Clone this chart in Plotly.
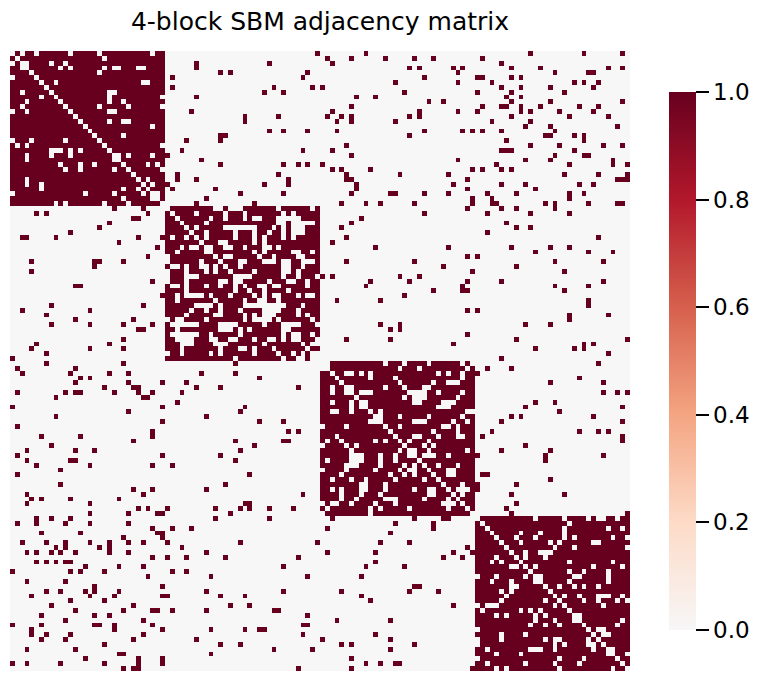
import plotly.graph_objects as go

BLOCK = 32
N = BLOCK * 4

# Zero cells inside each diagonal block, upper triangle: row -> columns (diagonal is zero as well)
Z1 = [[2,5,12,18,29],[19],[3,8,11],[10,12,19,21,22,26,27],[18],[],[9,27,28],[],[20,21],[20,31],[20,23],
      [18,24,31],[20,21],[],[20,23,24],[29],[],[23],[],[31],[],[22,24,29],[],[28,30],[31],[],[28],[29],[],[30],[],[]]
Z2 = [[10,11,13,14,15,23,30],[6,12,16,24,26],[9,12,16,18,19,23,24,25,26,27],[8,23,24,26,27,28,29,30],
      [6,12,13,14,15,16,17,18,22,24,26,27,28],[8,14,18,21,24,26,27,28],[8,14,18,20,24,26],[11,12,18,20],
      [9,12,13,16,20,21,23],[18,20,26,27,30],[12,13,19,22,27,28],[15,16,20,21,22,24,25,28,29,30],
      [15,24,25,28],[18,24,25,27],[15,16,17,24,27,31],[21,25,26,29],[19,20,22,23,29],[20,25],
      [20,22,23,27,29,30],[20,23],[21,22,23,24,28],[22,23,27],[27,29],[30],[25,26,27,31],[],[27,30],[31],
      [30,31],[],[31],[]]
Z3 = [[1,13,17,22,29,31],[16,20,30],[5,6,8,10,24,26,29],[10,15,29],[16,23,26,27,28],[6,13,17,21,22],
      [8,9,10,18,19,20,21,24,29],[17,19,20,21,28],[9,19,20,25,26,27],[24,25,26],[12,30,31],[12,16,22,29],
      [19,20,21,27,30],[16,25,26,28],[23,28],[19,20,24,28,29],[18,22],[21,23],[19,22,30],[21,22,23,26],
      [],[24,28],[26,27],[26,27],[],[29],[28,29,30],[29],[],[],[],[]]
Z4 = [[12,18,23,25,26,29],[19],[18,27,30],[9,13,18],[8,12,18,20,28,31],[9,15,17,24,25],[16,20,31],
      [10,13,14,15],[10,14],[19,28],[12,24,30],[19,22,27],[13,20,21,27],[19,27],[17,20,22,25],[],
      [18,21,25,26,27,30],[22,25,29,31],[26],[],[21],[30],[29],[25,26],[26,27],[],[],[28],[31],[],[],[]]

# Ones between blocks: row -> columns, local indices of each block
B12 = [[31],[],[6,21],[6],[11,13,29],[1,28],[],[1,22,30],[20,24],[6],[],[],[5],[16,23],[16],[],[21,24,29],
       [11,12],[4,11],[],[3,28],[0],[7],[11,24,27,29],[],[2,23],[2,6,25],[0,20,25],[1,10],[15,24],[8],[6,18]]
B13 = [[9],[1,6,13,19,23],[2],[18,20,27,29],[28],[21],[15,28],[0],[17],[7,11],[22,25],[6],[2,20,28],
       [1,4,6,18,20],[3,6,15],[],[3,21,29,31],[18],[],[5],[2],[6],[28],[0],[2,4,10,31],[5,16,26],[5,6,30],
       [7,27],[7,30],[6,14,15,21,26],[31],[4,9,12,19,31]]
B14 = [[11,22,30],[1],[5],[7,13,27,30],[16,23,24],[0,1,7,9],[3,20,22,25],[5,9,15,24],[0,7,18],[6,9],[7,15,30],
       [1,5,6,9,13,21,25],[0,9,11,17,24],[7,19,27],[3,11],[10,15,29],[1,5,16],[14,15,20,22],[6,22],[11,17,26,30],
       [5,6,7,20],[16,22,23],[10,15,28],[4,19,28,31],[1,5,7],[18,25,31],[29,30,31],[5,10,21,24],[12],
       [2,8,19,22],[3,19],[3,4,14,16,23,29,30]]
B23 = [[30],[21],[8],[6],[4],[],[5],[2],[11,26],[],[30],[5,19],[25],[31],[0,2,16,20],[10,18,30],[9,29],
       [23,29,30],[17],[3,12],[],[30],[],[],[12,16],[14,16],[30],[5,14],[27],[],[],[]]
B24 = [[5,8,16],[2,11,19],[],[6],[8,11],[2],[25],[],[7,15,19],[12,23,28],[0],[16,26],[8],[18],[],[5,26],[16,23],
       [18],[],[23],[23],[0],[19,27],[19],[10,15],[],[],[8,31],[22,24],[12,20,22],[27],[5]]
B34 = [[25],[2,7],[0],[21],[15,26],[],[26,29,31],[],[12,16],[10,30],[17],[7,9,24],[5,30],[],[3,21,25,27],[1,30],
       [30],[10],[5,15],[0,14,26],[14],[],[],[1,2],[15],[0,8],[0],[7,18],[],[8],[6],[7,31]]

COLORS = [[0.0,"#f7f7f7"],[0.2,"#fddbc7"],[0.4,"#f4a582"],[0.6,"#d6604d"],[0.8,"#b2182b"],[1.0,"#67001f"]]
TICKS = [0.0,0.2,0.4,0.6,0.8,1.0]

z = [[0]*N for _ in range(N)]
for b, zeros in enumerate([Z1,Z2,Z3,Z4]):
    off = b*BLOCK
    for i in range(BLOCK):
        for j in range(i+1, BLOCK):
            v = 0 if j in zeros[i] else 1
            z[off+i][off+j] = v
            z[off+j][off+i] = v
for (a,b,rows) in [(0,1,B12),(0,2,B13),(0,3,B14),(1,2,B23),(1,3,B24),(2,3,B34)]:
    for i,cols in enumerate(rows):
        for j in cols:
            z[a*BLOCK+i][b*BLOCK+j] = 1
            z[b*BLOCK+j][a*BLOCK+i] = 1

W,H = 759,681
fig = go.Figure(go.Heatmap(
    z=z, zmin=0, zmax=1, colorscale=COLORS,
    colorbar=dict(thicknessmode="pixels", thickness=27, lenmode="pixels", len=538,
                  x=669/W, xanchor="left", xref="container", y=1-92/H, yanchor="top", yref="container",
                  xpad=0, ypad=0, outlinewidth=0, tickmode="array", tickvals=TICKS,
                  ticktext=[f"{t:.1f}" for t in TICKS], ticks="outside", ticklen=13, tickwidth=2,
                  tickcolor="#000", tickfont=dict(family="DejaVu Sans", size=23, color="#000"))))
fig.update_layout(
    width=W, height=H, autosize=False, margin=dict(l=0,r=0,t=0,b=0,autoexpand=False),
    paper_bgcolor="white", plot_bgcolor="white",
    title=dict(text="4-block SBM adjacency matrix", x=320/W, xanchor="center", y=1-21/H, yanchor="middle",
               font=dict(family="DejaVu Sans", size=25, color="#000")),
    xaxis=dict(domain=[10/W,630/W], visible=False),
    yaxis=dict(domain=[1-671/H,1-51/H], visible=False, autorange="reversed"),
)
fig.write_html("out.html", config=dict(displayModeBar=False),
               post_script="document.body.style.margin='0';")
